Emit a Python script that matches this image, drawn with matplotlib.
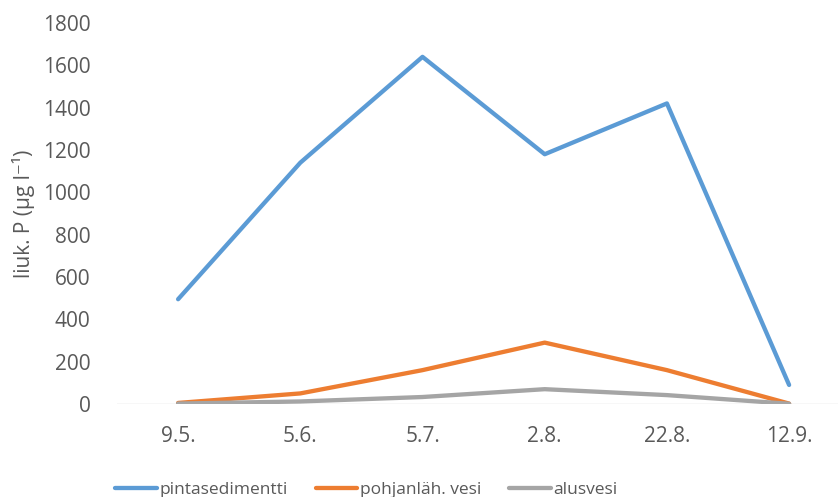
import matplotlib
matplotlib.use("Agg")
import matplotlib.pyplot as plt

dates = ["9.5.", "5.6.", "5.7.", "2.8.", "22.8.", "12.9."]
pintasedimentti = [495, 1140, 1640, 1180, 1420, 90]
pohjanlah_vesi = [5, 50, 160, 290, 160, 2]
alusvesi = [2, 12, 33, 70, 42, 1]

plt.rcParams["font.family"] = ["Open Sans", "DejaVu Sans"]

txt = "#595959"
fig = plt.figure(figsize=(8.38, 4.97), dpi=100)
ax = fig.add_axes([117 / 838, 1 - 404 / 497, 721 / 838, 381 / 497])

x = list(range(len(dates)))
ax.plot(x, pintasedimentti, color="#5B9BD5", lw=3.1, solid_capstyle="round",
        label="pintasedimentti")
ax.plot(x, pohjanlah_vesi, color="#ED7D31", lw=3.1, solid_capstyle="round",
        label="pohjanläh. vesi")
ax.plot(x, alusvesi, color="#A5A5A5", lw=3.1, solid_capstyle="round",
        label="alusvesi")

ax.set_ylim(0, 1800)
ax.set_xlim(-0.5, -0.5 + 721 / 122.2)
ax.set_yticks(range(0, 1801, 200))
ax.set_xticks(x)
ax.set_xticklabels(dates)
for s in ax.spines.values():
    s.set_visible(False)
ax.axhline(0, color="#D9D9D9", lw=1, zorder=0)
ax.tick_params(length=0, labelsize=15, colors=txt, pad=19)
ax.tick_params(axis="x", pad=16)
ax.set_ylabel("liuk. P (µg l⁻¹)", fontsize=15, color=txt, labelpad=6)

ax.legend(loc="lower left", bbox_to_anchor=(-0.012, -0.265), ncol=3, frameon=False,
          fontsize=12.5, labelcolor=txt, handlelength=2.4, handletextpad=0.15,
          columnspacing=1.6, borderaxespad=0, handleheight=0.5)

fig.savefig("out.png", dpi=100, facecolor="white")
